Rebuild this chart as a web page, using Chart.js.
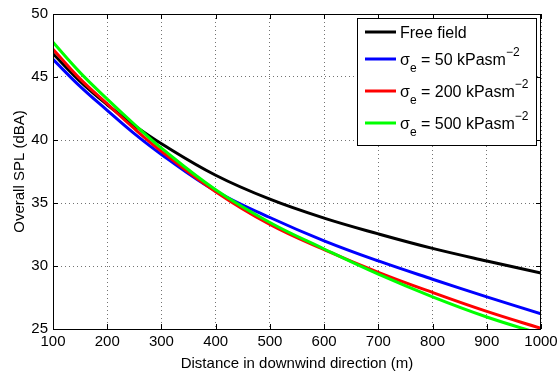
<!DOCTYPE html>
<html>
<head>
<meta charset="utf-8">
<script src="https://cdn.jsdelivr.net/npm/chart.js@4/dist/chart.umd.min.js"></script>
<style>
  html, body { margin: 0; padding: 0; background: #fff; }
  #wrap { width: 558px; height: 373px; position: relative; }
</style>
</head>
<body>
<div id="wrap"><canvas id="spl-chart"></canvas></div>
<script>
// distance in downwind direction (m)
const distances = [100, 150, 200, 250, 300, 400, 500, 600, 700, 800, 900, 1000];

// overall SPL (dBA)
const freeField = [46.85, 44.65, 42.8, 41.15, 39.7, 37.2, 35.3, 33.8, 32.55, 31.4, 30.4, 29.45];
const sigma50   = [46.4, 44.25, 42.35, 40.5, 38.85, 35.95, 33.85, 32.0, 30.4, 28.95, 27.55, 26.2];
const sigma200  = [47.2, 44.85, 42.86, 40.9, 39.1, 35.9, 33.3, 31.3, 29.5, 27.9, 26.4, 25.05];
const sigma500  = [47.75, 45.35, 43.25, 41.25, 39.35, 36.05, 33.45, 31.35, 29.35, 27.55, 25.95, 24.6];

const sigmaValues = [50, 200, 500];
const xTicks = [100, 200, 300, 400, 500, 600, 700, 800, 900, 1000];
const yTicks = [25, 30, 35, 40, 45, 50];

const FONT = 'Liberation Sans, Arial, Helvetica, sans-serif';

function pts(ys) {
  return ys.map((y, i) => ({ x: distances[i], y: y }));
}

function series(label, ys, color, order) {
  return {
    label: label,
    data: pts(ys),
    borderColor: color,
    backgroundColor: color,
    borderWidth: 3,
    pointRadius: 0,
    tension: 0.4,
    fill: false,
    order: order
  };
}

// box round the axes, inward ticks, and the legend with sub/superscripts
const matlabFrame = {
  id: 'matlabFrame',
  afterDatasetsDraw(chart) {
    const ctx = chart.ctx;
    const a = chart.chartArea;
    const xs = chart.scales.x, ys = chart.scales.y;
    ctx.save();
    ctx.strokeStyle = '#000';
    ctx.lineWidth = 1;
    ctx.strokeRect(a.left + 0.5, a.top + 0.5, a.right - a.left - 1, a.bottom - a.top);
    ctx.beginPath();
    xTicks.forEach(v => {
      const px = Math.round(xs.getPixelForValue(v)) + 0.5;
      ctx.moveTo(px, a.bottom); ctx.lineTo(px, a.bottom - 5);
      ctx.moveTo(px, a.top); ctx.lineTo(px, a.top + 5);
    });
    yTicks.forEach(v => {
      const py = Math.round(ys.getPixelForValue(v)) + 0.5;
      ctx.moveTo(a.left, py); ctx.lineTo(a.left + 5, py);
      ctx.moveTo(a.right, py); ctx.lineTo(a.right - 5, py);
    });
    ctx.stroke();

    // legend
    const w = 179, h = 127;
    const lx = a.right - 5 - w, ly = a.top + 4;
    ctx.fillStyle = '#fff';
    ctx.fillRect(lx, ly, w, h);
    ctx.strokeRect(lx + 0.5, ly + 0.5, w, h);
    const rows = [14, 41, 73, 105];
    chart.data.datasets.forEach((ds, i) => {
      const ry = ly + rows[i];
      ctx.strokeStyle = ds.borderColor;
      ctx.lineWidth = 3;
      ctx.beginPath();
      ctx.moveTo(lx + 8, ry); ctx.lineTo(lx + 39, ry);
      ctx.stroke();
      ctx.fillStyle = '#000';
      ctx.textBaseline = 'alphabetic';
      let tx = lx + 43;
      if (i === 0) {
        ctx.font = '16px ' + FONT;
        ctx.fillText(ds.label, tx, ry + 6);
      } else {
        ctx.font = '16px ' + FONT;
        ctx.fillText('σ', tx, ry + 6);
        tx += ctx.measureText('σ').width;
        ctx.font = '12px ' + FONT;
        ctx.fillText('e', tx, ry + 13);
        tx += ctx.measureText('e').width;
        ctx.font = '16px ' + FONT;
        const mid = ' = ' + sigmaValues[i - 1] + ' kPasm';
        ctx.fillText(mid, tx, ry + 6);
        tx += ctx.measureText(mid).width;
        ctx.font = '12px ' + FONT;
        ctx.fillText('\u22122', tx, ry - 3);
      }
    });
    ctx.restore();
  }
};

const gridStyle = {
  color: 'rgba(0,0,0,0.55)',
  lineWidth: 1,
  drawTicks: false
};

new Chart(document.getElementById('spl-chart'), {
  type: 'line',
  data: {
    datasets: [
      series('Free field', freeField, '#000000', 4),
      series('σe = 50 kPasm−2', sigma50, '#0000ff', 3),
      series('σe = 200 kPasm−2', sigma200, '#ff0000', 2),
      series('σe = 500 kPasm−2', sigma500, '#00ff00', 1)
    ]
  },
  options: {
    responsive: true,
    maintainAspectRatio: false,
    animation: false,
    layout: { padding: { top: 5, right: 17, left: 0, bottom: 0 } },
    plugins: {
      legend: { display: false },
      tooltip: { enabled: false }
    },
    scales: {
      x: {
        type: 'linear',
        min: 100,
        max: 1000,
        afterBuildTicks: s => { s.ticks = xTicks.map(v => ({ value: v })); },
        afterFit: s => { s.height = 44; s.paddingLeft = 0; s.paddingRight = 0; },
        ticks: { color: '#000', font: { family: FONT, size: 15 }, padding: 4, maxRotation: 0, callback: v => String(v) },
        grid: gridStyle,
        border: { display: false, dash: [1, 3] },
        title: { display: true, text: 'Distance in downwind direction (m)', color: '#000', font: { family: FONT, size: 15 }, padding: { top: 0, bottom: 0 } }
      },
      y: {
        min: 25,
        max: 50,
        afterBuildTicks: s => { s.ticks = yTicks.map(v => ({ value: v })); },
        afterFit: s => { s.width = 53; },
        ticks: { color: '#000', font: { family: FONT, size: 15 }, padding: 5, callback: v => String(v) },
        grid: gridStyle,
        border: { display: false, dash: [1, 3] },
        title: { display: true, text: 'Overall SPL (dBA)', color: '#000', font: { family: FONT, size: 15 }, padding: { top: 11, bottom: 0 } }
      }
    }
  },
  plugins: [matlabFrame]
});
</script>
</body>
</html>
